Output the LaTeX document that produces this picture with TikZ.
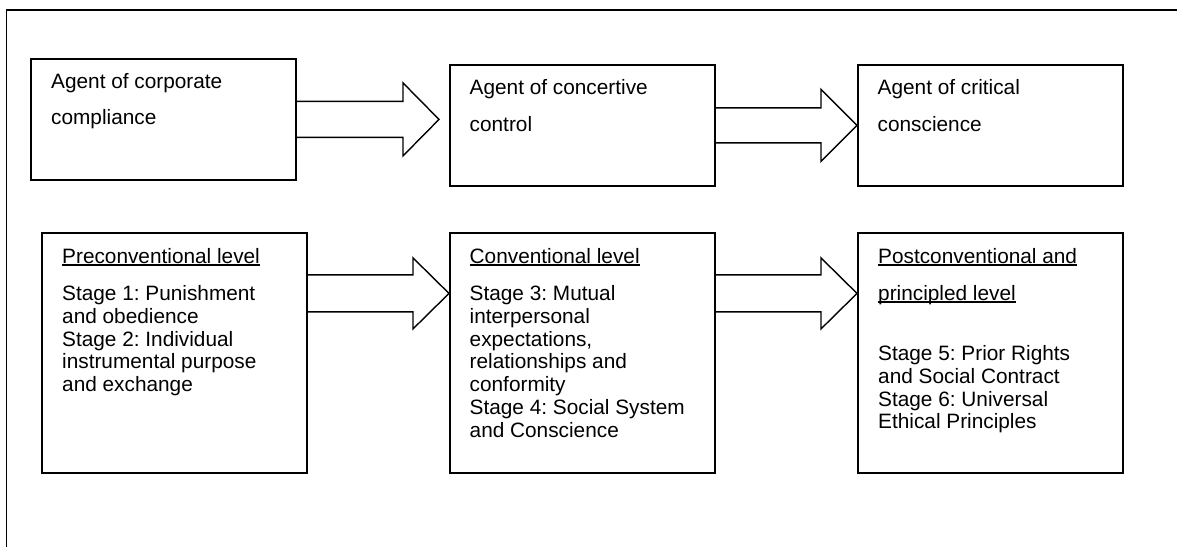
\documentclass[tikz,border=0pt]{standalone}
\usepackage{fontspec}
\setmainfont{Liberation Sans}
\usetikzlibrary{calc}
\frenchspacing

% underline set through the text at a fixed depth, like a word processor does
\newcommand\ulc[1]{\setbox0\hbox{#1}\rlap{\rule[-2.4pt]{\wd0}{1.3pt}}\box0}
% fixed height for the first line of every text block
\newcommand\firstline{\rule{0pt}{16pt}}

% hollow block arrow: #1 start anchor, #2 tip, #3 shaft half-width, #4 head half-width
\newcommand\fatarrow[4]{%
  \draw[fat] ([yshift=#3]#1) -- ([xshift=-36pt,yshift=#3]#2)
    -- ([xshift=-36pt,yshift=#4]#2) -- (#2)
    -- ([xshift=-36pt,yshift=-#4]#2) -- ([xshift=-36pt,yshift=-#3]#2)
    -- ([yshift=-#3]#1);}

\begin{document}
\begin{tikzpicture}[x=1pt,y=-1pt,
  box/.style={draw, line width=1.8pt, inner sep=0pt, anchor=north west, minimum width=265pt},
  toprow/.style={box, minimum height=121pt},
  lowrow/.style={box, minimum height=240pt},
  boxtext/.style={anchor=north west, align=left, inner sep=0pt,
    font=\fontsize{20.8}{22.9}\selectfont},
  fat/.style={draw, line width=1.4pt, line join=miter},
  frame/.style={line width=1.5pt}]

\useasboundingbox (0,0) rectangle (1177,547);

% surrounding frame (top and left sides)
\draw[frame] (1177,10) -- (6.5,10) -- (6.5,547);

% upper row: roles of the agent
\node[toprow] (a1) at (30,58) {};
\node[toprow] (a2) at (449,64) {};
\node[toprow] (a3) at (857,64) {};

\node[boxtext] (a1t) at ([shift={(21,14)}]a1.north west)
  {\firstline Agent of corporate\\[13.6pt]compliance};
\node[boxtext] (a2t) at ([shift={(20.5,14.5)}]a2.north west)
  {\firstline Agent of concertive\\[13.6pt]control};
\node[boxtext] (a3t) at ([shift={(20.5,14.5)}]a3.north west)
  {\firstline Agent of critical\\[13.6pt]conscience};

% lower row: levels of moral development
\node[lowrow] (b1) at (41,232) {};
\node[lowrow] (b2) at (449,232) {};
\node[lowrow] (b3) at (857,232) {};

\node[boxtext] (b1t) at ([shift={(21,15)}]b1.north west)
  {\firstline\ulc{Preconventional level}\\[14.1pt]
   Stage 1: Punishment\\
   and obedience\\
   Stage 2: Individual\\
   instrumental purpose\\
   and exchange};
\node[boxtext] (b2t) at ([shift={(20.5,15)}]b2.north west)
  {\firstline\ulc{Conventional level}\\[14.1pt]
   Stage 3: Mutual\\
   interpersonal\\
   expectations,\\
   relationships and\\
   conformity\\
   Stage 4: Social System\\
   and Conscience};
\node[boxtext] (b3t) at ([shift={(21,15)}]b3.north west)
  {\firstline\ulc{Postconventional and}\\[14.1pt]
   \ulc{principled level}\\[37.1pt]
   Stage 5: Prior Rights\\
   and Social Contract\\
   Stage 6: Universal\\
   Ethical Principles};

% arrow tips and starts
\path (a1.east -| a2.west) ++(-10,0) coordinate (t1);
\coordinate (t2) at (a2.east -| a3.west);
\path (b1.east) ++(0,-59.5) coordinate (s3);
\coordinate (t3) at (s3 -| b2.west);
\path (b2.east) ++(0,-59.5) coordinate (s4);
\coordinate (t4) at (s4 -| b3.west);

\fatarrow{a1.east}{t1}{18pt}{36.5pt}
\fatarrow{a2.east}{t2}{17.5pt}{36pt}
\fatarrow{s3}{t3}{18.5pt}{35.5pt}
\fatarrow{s4}{t4}{18.5pt}{35.5pt}

\end{tikzpicture}
\end{document}
